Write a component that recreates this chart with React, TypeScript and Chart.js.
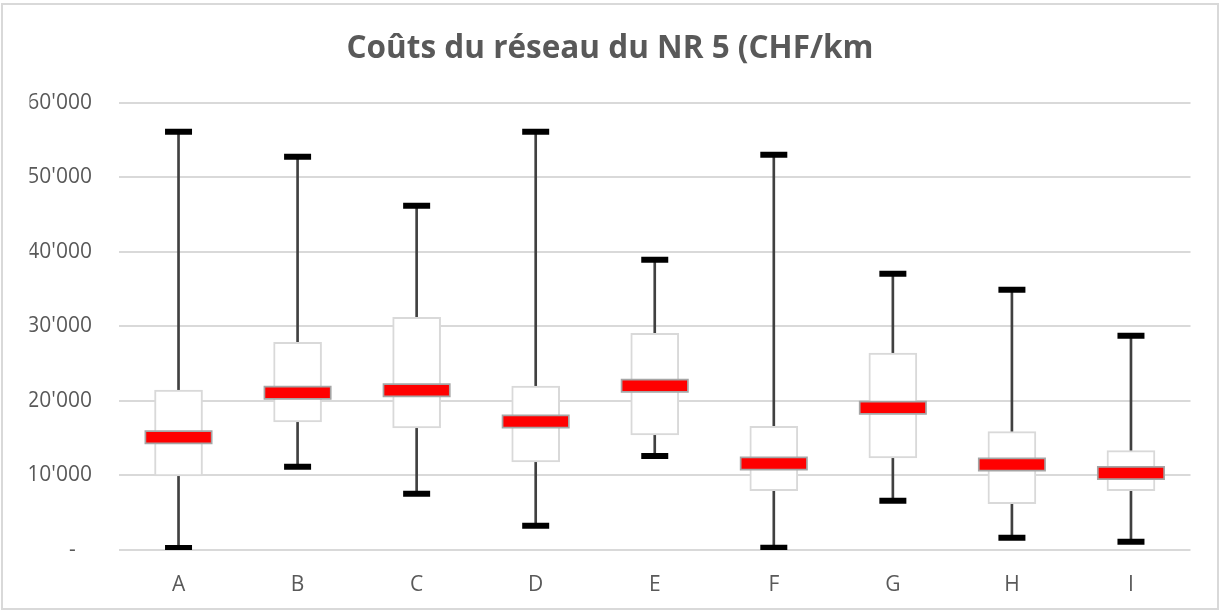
import React, { useEffect, useRef } from "react";
import { Chart, registerables } from "chart.js";

Chart.register(...registerables);

const categories = ["A", "B", "C", "D", "E", "F", "G", "H", "I"];
const minValues = [270, 11160, 7540, 3250, 12610, 290, 6600, 1640, 1100];
const q1Values = [9930, 17170, 16370, 11800, 15430, 7960, 12340, 6210, 7950];
const medianValues = [15110, 21100, 21420, 17240, 22040, 11600, 19090, 11470, 10330];
const q3Values = [21460, 27860, 31210, 22000, 29070, 16590, 26430, 15870, 13320];
const maxValues = [56100, 52750, 46170, 56100, 38930, 53010, 37050, 34900, 28730];
const yTickValues = [0, 10000, 20000, 30000, 40000, 50000, 60000];
const titleText = "Coûts du réseau du NR 5 (CHF/km";

const FONT = "'Open Sans', 'DejaVu Sans', sans-serif";
const TEXT_COLOR = "#595959";
const GRID_COLOR = "#d9d9d9";

function formatTick(v: number): string {
  if (v === 0) return "-   ";
  return String(v).replace(/\B(?=(\d{3})+(?!\d))/g, "'");
}

export default function App() {
  const canvasRef = useRef<HTMLCanvasElement | null>(null);

  useEffect(() => {
    const canvas = canvasRef.current;
    if (!canvas) return;

    const chart = new Chart(canvas, {
      type: "bar",
      data: {
        labels: categories,
        datasets: [
          {
            type: "bar",
            label: "whisker",
            data: categories.map((_, i) => [minValues[i], maxValues[i]]) as any,
            backgroundColor: "#404040",
            borderWidth: 0,
            barThickness: 2,
            grouped: false,
            order: 5,
          } as any,
          {
            type: "bar",
            label: "box",
            data: categories.map((_, i) => [q1Values[i], q3Values[i]]) as any,
            backgroundColor: "#ffffff",
            borderColor: GRID_COLOR,
            borderWidth: 2,
            borderSkipped: false,
            barThickness: 48,
            grouped: false,
            order: 4,
          } as any,
          {
            type: "line",
            label: "min",
            data: minValues,
            showLine: false,
            pointStyle: "line",
            pointRadius: 13.5,
            pointBorderWidth: 6,
            pointBorderColor: "#000000",
            pointBackgroundColor: "#000000",
            order: 3,
          } as any,
          {
            type: "line",
            label: "max",
            data: maxValues,
            showLine: false,
            pointStyle: "line",
            pointRadius: 13.5,
            pointBorderWidth: 6,
            pointBorderColor: "#000000",
            pointBackgroundColor: "#000000",
            order: 2,
          } as any,
          {
            type: "line",
            label: "median-border",
            data: medianValues,
            showLine: false,
            pointStyle: "line",
            pointRadius: 34,
            pointBorderWidth: 14,
            pointBorderColor: "#a5a5a5",
            order: 1,
          } as any,
          {
            type: "line",
            label: "median",
            data: medianValues,
            showLine: false,
            pointStyle: "line",
            pointRadius: 32.3,
            pointBorderWidth: 10.5,
            pointBorderColor: "#ff0000",
            order: 0,
          } as any,
        ],
      },
      options: {
        responsive: false,
        animation: false,
        events: [],
        layout: { autoPadding: false, padding: { left: 29.5, right: 29.5, top: 0, bottom: 0 } },
        plugins: {
          legend: { display: false },
          tooltip: { enabled: false },
          title: {
            display: true,
            text: titleText,
            color: TEXT_COLOR,
            font: { family: FONT, size: 31.5, weight: "bold", lineHeight: 1.2 },
            padding: { top: 30.1, bottom: 34.8 },
          },
        },
        scales: {
          x: {
            offset: true,
            grid: { display: false, drawTicks: false },
            border: { display: false },
            ticks: {
              color: TEXT_COLOR,
              font: { family: FONT, size: 21 },
              padding: 22,
            },
            afterFit: (scale: any) => {
              scale.height = 62;
              scale.paddingLeft = 0;
              scale.paddingRight = 0;
            },
          },
          y: {
            min: 0,
            max: 60000,
            afterBuildTicks: (scale: any) => {
              scale.ticks = yTickValues.map((v) => ({ value: v }));
            },
            grid: { color: GRID_COLOR, lineWidth: 2, drawTicks: false },
            border: { display: false },
            ticks: {
              color: TEXT_COLOR,
              font: { family: FONT, size: 21 },
              padding: 27,
              callback: (v: any) => formatTick(Number(v)),
            },
            afterFit: (scale: any) => {
              scale.width = 89.5;
            },
          },
        },
      },
    } as any);

    return () => {
      chart.destroy();
    };
  }, []);

  return (
    <div style={{ position: "absolute", left: 0, top: 0, width: 1220, height: 612, background: "#ffffff" }}>
      <canvas ref={canvasRef} width={1220} height={612} style={{ position: "absolute", left: 0, top: 0, width: 1220, height: 612 }} />
      <div
        style={{
          position: "absolute",
          left: 1,
          top: 3,
          width: 1218,
          height: 607,
          border: `2px solid ${GRID_COLOR}`,
          boxSizing: "border-box",
          pointerEvents: "none",
        }}
      />
    </div>
  );
}
